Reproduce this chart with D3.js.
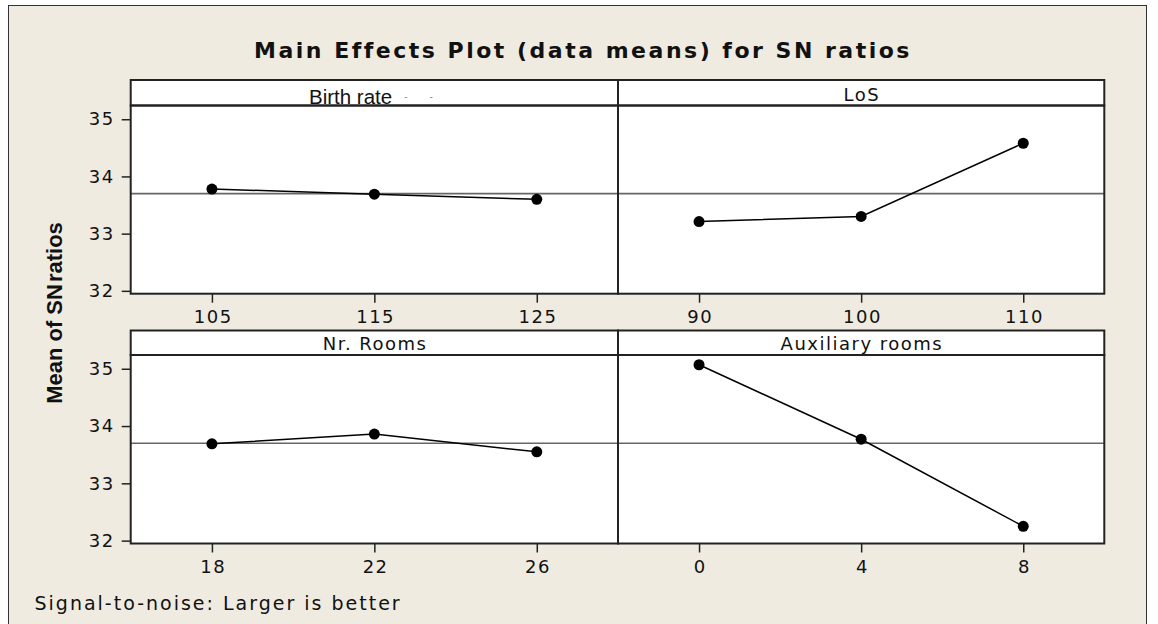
<!DOCTYPE html>
<html>
<head>
<meta charset="utf-8">
<script src="https://cdn.jsdelivr.net/npm/d3@7"></script>
<style>
  html, body { margin: 0; padding: 0; background: #ffffff; }
  svg { display: block; }
</style>
</head>
<body>
<svg id="chart" width="1158" height="624"></svg>
<script>
// ---- data ----
const title = "Main Effects Plot (data means) for SN ratios";
const yTitleA = "Mean of SN";
const yTitleB = "ratios";
const footer = "Signal-to-noise: Larger is better";
const factors = ["Birth rate", "LoS", "Nr. Rooms", "Auxiliary rooms"];
const birthLevels = ["105", "115", "125"];
const birthMeans = [33.78, 33.69, 33.60];
const losLevels = ["90", "100", "110"];
const losMeans = [33.21, 33.30, 34.58];
const roomsLevels = ["18", "22", "26"];
const roomsMeans = [33.69, 33.86, 33.55];
const auxLevels = ["0", "4", "8"];
const auxMeans = [35.07, 33.77, 32.25];
const grandMean = 33.70;
const yTicks = [32, 33, 34, 35];
const yDomain = [31.95, 35.24];

// ---- layout ----
const svg = d3.select("#chart");
const bg = "#EFEBE1";
const colX = [130.7, 618, 1104.3];
const rows = [
  { hTop: 80, hBot: 105.5, pBot: 293.7 },
  { hTop: 330.5, hBot: 355, pBot: 543.5 }
];
const tickFont = "'DejaVu Sans', Verdana, sans-serif";

svg.append("rect").attr("x", 8.5).attr("y", 5.5).attr("width", 1138).attr("height", 700)
  .attr("fill", bg).attr("stroke", "#333").attr("stroke-width", 1);

svg.append("text").attr("x", 583).attr("y", 58).attr("text-anchor", "middle")
  .attr("font-family", tickFont).attr("font-weight", "bold").attr("font-size", 22)
  .attr("letter-spacing", 2.5).attr("fill", "#111").text(title);

const yt = svg.append("text").attr("transform", "translate(62,313) rotate(-90)")
  .attr("text-anchor", "middle").attr("font-family", "'Liberation Sans', Arial, sans-serif")
  .attr("font-weight", "bold").attr("font-size", 22).attr("fill", "#111");
yt.append("tspan").text(yTitleA);
yt.append("tspan").attr("dx", 2).text(yTitleB);

svg.append("text").attr("x", 34.5).attr("y", 610)
  .attr("font-family", tickFont).attr("font-size", 19).attr("letter-spacing", 2)
  .attr("fill", "#111").text(footer);

const panels = [
  { name: factors[0], levels: birthLevels, means: birthMeans, col: 0, row: 0 },
  { name: factors[1], levels: losLevels, means: losMeans, col: 1, row: 0 },
  { name: factors[2], levels: roomsLevels, means: roomsMeans, col: 0, row: 1 },
  { name: factors[3], levels: auxLevels, means: auxMeans, col: 1, row: 1 }
];

panels.forEach(p => {
  const r = rows[p.row];
  const x0 = colX[p.col], x1 = colX[p.col + 1];
  const g = svg.append("g");
  const x = d3.scalePoint().domain(p.levels).range([x0, x1]).padding(0.5);
  const y = d3.scaleLinear().domain(yDomain).range([r.pBot, r.hBot]);

  // plot area + header
  g.append("rect").attr("x", x0).attr("y", r.hBot).attr("width", x1 - x0).attr("height", r.pBot - r.hBot)
    .attr("fill", "#fff");
  g.append("rect").attr("x", x0).attr("y", r.hTop).attr("width", x1 - x0).attr("height", r.hBot - r.hTop)
    .attr("fill", "#fff");

  // reference line (grand mean)
  g.append("line").attr("x1", x0).attr("x2", x1).attr("y1", y(grandMean)).attr("y2", y(grandMean))
    .attr("stroke", "#666").attr("stroke-width", 1.6);

  // x axis
  const xa = g.append("g").attr("transform", `translate(0,${r.pBot})`)
    .call(d3.axisBottom(x).tickSize(9).tickPadding(8));
  xa.select(".domain").remove();
  xa.selectAll("line").attr("stroke", "#222").attr("stroke-width", 1.5);
  xa.selectAll("text").attr("font-family", tickFont).attr("font-size", 18)
    .attr("letter-spacing", 1.5).attr("fill", "#111").attr("dx", 0.75);

  // y axis only on left column
  if (p.col === 0) {
    const ya = g.append("g").attr("transform", `translate(${x0},0)`)
      .call(d3.axisLeft(y).tickValues(yTicks).tickFormat(d3.format("d")).tickSize(9).tickPadding(7));
    ya.select(".domain").remove();
    ya.selectAll("line").attr("stroke", "#222").attr("stroke-width", 1.5);
    ya.selectAll("text").attr("font-family", tickFont).attr("font-size", 18)
      .attr("letter-spacing", 1.5).attr("fill", "#111");
  }

  // data line + points
  const pts = p.levels.map((l, i) => [x(l), y(p.means[i])]);
  g.append("path").attr("d", d3.line()(pts)).attr("fill", "none")
    .attr("stroke", "#000").attr("stroke-width", 1.5);
  g.selectAll("circle.pt").data(pts).enter().append("circle")
    .attr("cx", d => d[0]).attr("cy", d => d[1]).attr("r", 5.5).attr("fill", "#000");

  // borders
  g.append("rect").attr("x", x0).attr("y", r.hBot).attr("width", x1 - x0).attr("height", r.pBot - r.hBot)
    .attr("fill", "none").attr("stroke", "#222").attr("stroke-width", 2);
  g.append("rect").attr("x", x0).attr("y", r.hTop).attr("width", x1 - x0).attr("height", r.hBot - r.hTop)
    .attr("fill", "none").attr("stroke", "#222").attr("stroke-width", 2);

  // header label
  const cx = (x0 + x1) / 2;
  if (p.name === "Birth rate") {
    const t = g.append("text").attr("x", 309).attr("y", r.hBot - 1.5)
      .attr("font-family", "'Liberation Sans', Arial, sans-serif").attr("font-size", 20.5)
      .attr("fill", "#111");
    t.append("tspan").text(p.name);
    t.append("tspan").attr("dx", 12).attr("dy", -4).attr("font-size", 10).attr("fill", "#888").text("-");
    t.append("tspan").attr("dx", 22).attr("font-size", 10).attr("fill", "#888").text("-");
  } else {
    g.append("text").attr("x", cx + 0.75).attr("y", r.hBot - 5).attr("text-anchor", "middle")
      .attr("font-family", tickFont).attr("font-size", 18).attr("letter-spacing", 1.5)
      .attr("fill", "#111").text(p.name);
  }
});
</script>
</body>
</html>
